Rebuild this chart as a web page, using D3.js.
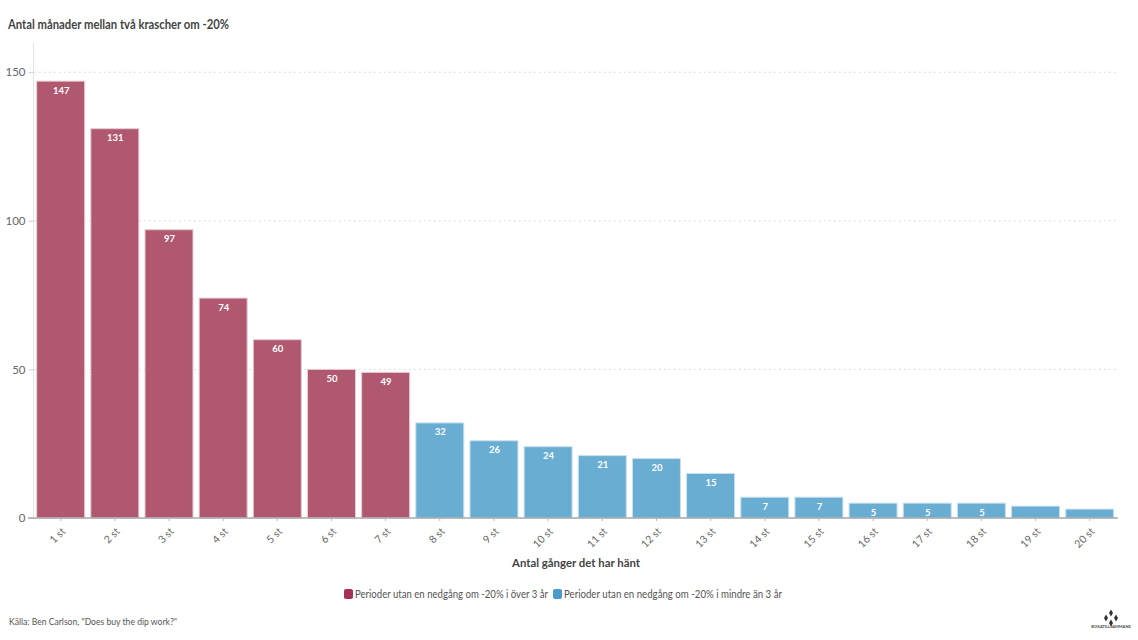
<!DOCTYPE html>
<html>
<head>
<meta charset="utf-8">
<script src="https://cdn.jsdelivr.net/npm/d3@7"></script>
<style>
  body { margin: 0; background: #fff; }
  svg { display: block; }
  text { font-family: Lato, "Noto Sans", sans-serif; }
</style>
</head>
<body>
<svg id="chart" width="1138" height="640"></svg>
<script>
var categories = ["1 st","2 st","3 st","4 st","5 st","6 st","7 st","8 st","9 st","10 st",
  "11 st","12 st","13 st","14 st","15 st","16 st","17 st","18 st","19 st","20 st"];
var values = [147,131,97,74,60,50,49,32,26,24,21,20,15,7,7,5,5,5,4,3];
var hiddenLabels = ["19 st","20 st"];
var longPeriods = ["1 st","2 st","3 st","4 st","5 st","6 st","7 st"];
var yTicks = [0,50,100,150];
var legendLabels = ["Perioder utan en nedgång om -20% i över 3 år","Perioder utan en nedgång om -20% i mindre än 3 år"];

var svg = d3.select("#chart");

var xScale = d3.scaleBand().domain(categories).range([33.6,1116.8]).paddingInner(0.114).paddingOuter(0.057);
var yScale = d3.scaleLinear().domain([0,160]).range([518,42.5]);

function barColor(d){
  return longPeriods.indexOf(d)>=0 ? "#b05870" : "#6aadd2";
}

// Lato is wider than the reference font, so squeeze the long strings to fit
svg.append("text").attr("x",8).attr("y",29)
  .attr("font-size",12.5).attr("font-weight",700).attr("fill","#444")
  .attr("textLength",221).attr("lengthAdjust","spacingAndGlyphs")
  .text("Antal månader mellan två krascher om -20%");

// grid
svg.append("g").selectAll("line").data(yTicks.slice(1)).enter().append("line")
  .attr("x1",34).attr("x2",1118)
  .attr("y1",function(d){return yScale(d);}).attr("y2",function(d){return yScale(d);})
  .attr("stroke","#d6d0d2").attr("stroke-width",1).attr("stroke-dasharray","1.5,3.5");

// y axis
var yAxis = d3.axisLeft(yScale).tickValues(yTicks).tickSize(5).tickPadding(3);
var yG = svg.append("g").attr("transform","translate(33.5,0)").call(yAxis);
yG.select(".domain").attr("stroke","#e3e3e3").attr("d","M0,42.5V518");
yG.selectAll(".tick line").attr("stroke","#d0d0d0");
yG.selectAll("text").attr("font-size",11.5).attr("fill","#666").style("font-family","Lato, sans-serif");

// bars
svg.append("g").selectAll("rect").data(categories).enter().append("rect")
  .attr("x",function(d){return xScale(d);})
  .attr("width",xScale.bandwidth())
  .attr("y",function(d,i){return yScale(values[i]);})
  .attr("height",function(d,i){return yScale(0)-yScale(values[i]);})
  .attr("fill",barColor)
  .attr("stroke",function(d){return longPeriods.indexOf(d)>=0 ? "#e6ccd4" : "#c9e2f0";})
  .attr("stroke-width",1);

// value labels
svg.append("g").selectAll("text").data(categories.filter(function(d){return hiddenLabels.indexOf(d)<0;})).enter().append("text")
  .attr("x",function(d){return xScale(d)+xScale.bandwidth()/2+0.5;})
  .attr("y",function(d){return yScale(values[categories.indexOf(d)])+12.5;})
  .attr("text-anchor","middle").attr("font-size",9.5).attr("font-weight",700).attr("fill","#fff")
  .text(function(d){return values[categories.indexOf(d)];});

// x axis
var xAxis = d3.axisBottom(xScale).tickSize(3).tickPadding(4);
var xG = svg.append("g").attr("transform","translate(0,518)").call(xAxis);
xG.select(".domain").attr("stroke","#a8a8a8").attr("stroke-width",1.5).attr("d","M28,0H1118");
xG.selectAll(".tick line").attr("stroke","#bbb");
xG.selectAll("text")
  .attr("font-size",10.5).attr("fill","#666").style("font-family","Lato, sans-serif")
  .attr("text-anchor","end").attr("dy",0).attr("y",0)
  .attr("transform","translate(5.5,14) rotate(-45)");

svg.append("text").attr("x",576).attr("y",567).attr("text-anchor","middle")
  .attr("font-size",12).attr("font-weight",700).attr("fill","#444")
  .attr("textLength",128).attr("lengthAdjust","spacingAndGlyphs")
  .text("Antal gånger det har hänt");

// legend
var legendX = [344,553];
var legendWidths = [193,218];
var legendColors = ["#a5315a","#4a9ccb"];
var legend = svg.append("g").selectAll("g").data(legendLabels).enter().append("g")
  .attr("transform",function(d,i){return "translate("+legendX[i]+",589)";});
legend.append("rect").attr("width",9).attr("height",10).attr("rx",2)
  .attr("fill",function(d,i){return legendColors[i];});
legend.append("text").attr("x",11).attr("y",9).attr("font-size",10.5).attr("fill","#555")
  .attr("textLength",function(d,i){return legendWidths[i];}).attr("lengthAdjust","spacingAndGlyphs")
  .text(function(d){return d;});

svg.append("text").attr("x",9).attr("y",625).attr("font-size",9.5).attr("fill","#555")
  .attr("textLength",168).attr("lengthAdjust","spacingAndGlyphs")
  .text("Källa: Ben Carlson, \"Does buy the dip work?\"");

// logo
var logo = svg.append("g").attr("transform","translate(1111,618)");
var logoDots = [[0,-5],[-5,0],[5,0],[0,5]];
logo.selectAll("path").data(logoDots).enter().append("path")
  .attr("d",d3.symbol(d3.symbolDiamond,14)())
  .attr("transform",function(d){return "translate("+d[0]+","+d[1]+")";})
  .attr("fill","#333");
svg.append("text").attr("x",1111).attr("y",628).attr("text-anchor","middle")
  .attr("font-size",4).attr("font-weight",700).attr("fill","#444").text("BOKATILLSAMMANS");
</script>
</body>
</html>
